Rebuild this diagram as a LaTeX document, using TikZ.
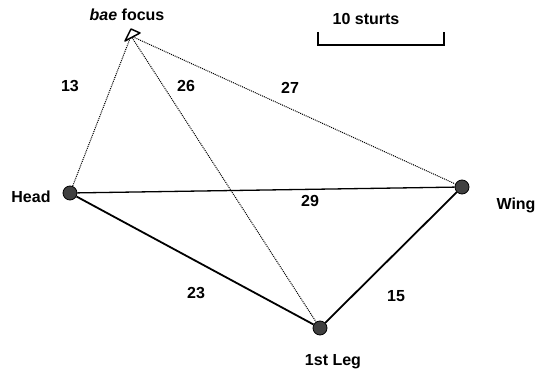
\documentclass[tikz,border=0pt]{standalone}
\usepackage{fontspec}
\setmainfont{Liberation Sans}
\usetikzlibrary{positioning}

\begin{document}
\begin{tikzpicture}[
      x=1pt, y=-1pt,
      font=\fontsize{16}{19}\selectfont\bfseries,
      site/.style ={circle, draw=black, fill=black!75, line width=0.8pt,
                    inner sep=0pt, minimum size=14pt},
      nlbl/.style ={inner sep=1pt},
      dlbl/.style ={inner sep=1pt},
      leg/.style  ={draw=black, line width=1.8pt},
      cross/.style={draw=black, line width=1.3pt},
      ray/.style  ={draw=black, line width=1pt, dash pattern=on 1pt off 1pt}
    ]
    \useasboundingbox (0,0) rectangle (537,374);
    % --- points ---
    \node[site] (head) at (70,193)  {};
    \node[site] (wing) at (462,187) {};
    \node[site] (leg)  at (320,328) {};
    \coordinate (focus) at (131,36);
    % --- names ---
    \node[nlbl] (headname) at (31,197)  {Head};
    \node[nlbl] (wingname) at (516,205) {Wing};
    \node[nlbl] (legname)  at (333,362) {1st Leg};
    \node[nlbl] (focusname) at (127,15) {\textit{bae} focus};
    % --- solid links ---
    \draw[cross] (head) -- (wing);
    \draw[leg] (head) -- (leg);
    \draw[leg] (leg) -- (wing);
    % --- rays from the focus ---
    \draw[ray] (focus) -- (head);
    \draw[ray] (focus) -- (leg);
    \draw[ray] (focus) -- (wing);
    \draw[draw=black, line width=1.5pt, fill=white, line join=round]
      (125,41) -- (131,29) -- (140,33) -- cycle;
    % --- distances ---
    \node[dlbl] (d13) at (70,86)   {13};
    \node[dlbl] (d26) at (186,86)  {26};
    \node[dlbl] (d27) at (290,88)  {27};
    \node[dlbl] (d29) at (310,201) {29};
    \node[dlbl] (d23) at (196,293) {23};
    \node[dlbl] (d15) at (396,296) {15};
    % --- scale bar ---
    \node[nlbl] (scalename) at (366,19) {10 sturts};
    \draw[line width=1.3pt] (318,32) -- (318,45) -- (444,45) -- (444,32);
  \end{tikzpicture}
\end{document}
